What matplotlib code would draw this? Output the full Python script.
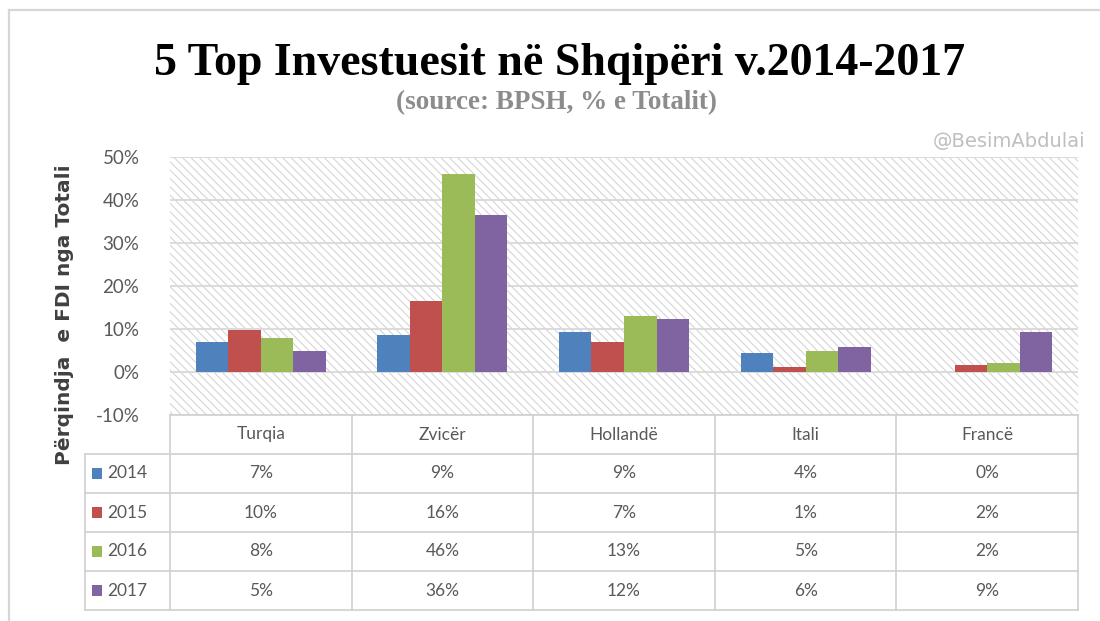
import matplotlib.pyplot as plt
import matplotlib.patches as mpatches
from matplotlib.lines import Line2D

# Data
countries = ["Turqia", "Zvicër", "Hollandë", "Itali", "Francë"]
years = ["2014", "2015", "2016", "2017"]
v2014 = [7.0, 8.6, 9.4, 4.4, 0.0]
v2015 = [9.8, 16.4, 7.0, 1.1, 1.6]
v2016 = [8.0, 46.0, 13.1, 4.8, 2.2]
v2017 = [4.8, 36.4, 12.4, 5.9, 9.2]
series = [v2014, v2015, v2016, v2017]
yticks = [-10, 0, 10, 20, 30, 40, 50]

colors = ["#4F81BD", "#C0504D", "#9BBB59", "#8064A2"]
grid_c = "#D9D9D9"
text_c = "#595959"
sans = "Lato"

plt.rcParams["hatch.linewidth"] = 0.7

W, H = 1100, 621
fig = plt.figure(figsize=(11, 6.21), dpi=100)

# outer frame of the chart
fig.add_artist(Line2D([9 / W, 1.0], [1 - 10 / H, 1 - 10 / H], color="#D6D6D6", lw=1.6))
fig.add_artist(Line2D([9 / W, 9 / W], [0, 1 - 10 / H], color="#D6D6D6", lw=1.6))

# plot area in pixels
px_l, px_r, px_t, px_b = 170, 1078, 157, 415
ax = fig.add_axes([px_l / W, 1 - px_b / H, (px_r - px_l) / W, (px_b - px_t) / H])
ax.set_xlim(-0.5, len(countries) - 0.5)
ax.set_ylim(-10, 50)

# hatched background
ax.add_patch(mpatches.Rectangle((0, 0), 1, 1, transform=ax.transAxes,
                                facecolor="white", edgecolor="#D0D0D0",
                                hatch="\\\\\\\\", lw=0, zorder=0))

for y in yticks:
    ax.axhline(y, color=grid_c, lw=1.3, zorder=1)

bw = 0.179
for i, (vals, c) in enumerate(zip(series, colors)):
    xs = [k + (i - 1.5) * bw for k in range(len(countries))]
    ax.bar(xs, vals, width=bw, color=c, zorder=2)

ax.set_yticks(yticks)
ax.set_yticklabels([f"{t}%" for t in yticks], fontsize=13.5, color=text_c, family=sans)
ax.tick_params(axis="y", length=0, pad=22)
ax.set_xticks([])
for s in ax.spines.values():
    s.set_visible(False)

# data table under the plot
row_h = 39
n_rows = len(years) + 1
tb_top = px_b
tb_left = 85
cat_w = (px_r - px_l) / len(countries)
tax = fig.add_axes([tb_left / W, 1 - (tb_top + n_rows * row_h) / H,
                    (px_r - tb_left) / W, n_rows * row_h / H])
x0 = -0.5 - (px_l - tb_left) / cat_w
tax.set_xlim(x0, len(countries) - 0.5)
tax.set_ylim(n_rows, 0)
tax.axis("off")

lc = "#D0D0D0"
# horizontal lines
tax.plot([-0.5, len(countries) - 0.5], [0, 0], color=lc, lw=1.2, clip_on=False)
for r in range(1, n_rows + 1):
    tax.plot([x0, len(countries) - 0.5], [r, r], color=lc, lw=1.2, clip_on=False)
# vertical lines
tax.plot([x0, x0], [1, n_rows], color=lc, lw=1.2, clip_on=False)
for k in range(len(countries) + 1):
    tax.plot([k - 0.5, k - 0.5], [0, n_rows], color=lc, lw=1.2, clip_on=False)

for k, name in enumerate(countries):
    tax.text(k, 0.5, name, ha="center", va="center", fontsize=12.5, color=text_c, family=sans)

for r, (yr, vals, c) in enumerate(zip(years, series, colors)):
    yc = r + 1.5
    tax.add_patch(mpatches.Rectangle((x0 + 0.04, yc - 0.13), 0.055, 0.26, facecolor=c, lw=0))
    tax.text(x0 + 0.12, yc, yr, ha="left", va="center", fontsize=12.5, color=text_c, family=sans)
    for k, v in enumerate(vals):
        tax.text(k, yc, f"{v:.0f}%", ha="center", va="center", fontsize=12.5, color=text_c, family=sans)

# titles and labels
fig.text(560 / W, 1 - 64 / H, "5 Top Investuesit në Shqipëri v.2014-2017",
         ha="center", va="center", fontsize=33, fontweight="bold", family="Liberation Serif", color="black")
fig.text(557 / W, 1 - 103 / H, "(source: BPSH, % e Totalit)",
         ha="center", va="center", fontsize=19.5, fontweight="bold", family="Liberation Serif", color="#8C8C8C")
fig.text(1085 / W, 1 - 141 / H, "@BesimAbdulai", ha="right", va="center",
         fontsize=14, color="#BFBFBF", family="DejaVu Sans")
fig.text(65 / W, 1 - 315 / H, "Përqindja  e FDI nga Totali", rotation=90,
         ha="center", va="center", fontsize=14.5, fontweight="bold", color="#404040", family="DejaVu Sans")

fig.savefig("out.png", dpi=100)
